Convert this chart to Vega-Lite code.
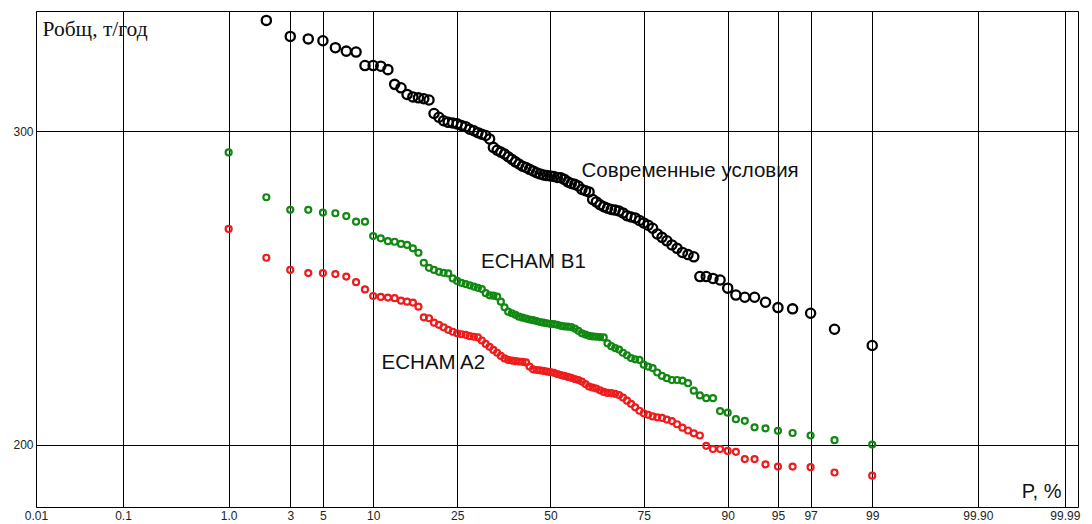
{
  "$schema": "https://vega.github.io/schema/vega-lite/v6.json",
  "width": 1042,
  "height": 496,
  "autosize": {"type": "none"},
  "padding": {"left": 36, "top": 11, "right": 14, "bottom": 17},
  "background": "white",
  "config": {
    "view": {"stroke": "black", "strokeWidth": 1, "fill": "white"},
    "axis": {"domain": false, "ticks": false, "grid": true, "gridColor": "black", "gridOpacity": 1, "gridWidth": 1, "labelFont": "Liberation Sans", "labelFontSize": 12, "labelColor": "#222"}
  },
  "datasets": {
    "obs": [
      {"series":"obs","P":2,"R":335.3},{"series":"obs","P":3,"R":330.2},{"series":"obs","P":4,"R":329.4},{"series":"obs","P":5,"R":328.8},{"series":"obs","P":6,"R":326.6},{"series":"obs","P":7,"R":325.5},{"series":"obs","P":8,"R":325.2},{"series":"obs","P":9,"R":320.9},{"series":"obs","P":10,"R":320.9},{"series":"obs","P":11,"R":320.7},
      {"series":"obs","P":12,"R":319.6},{"series":"obs","P":13,"R":314.9},{"series":"obs","P":14,"R":313.8},{"series":"obs","P":15,"R":311.7},{"series":"obs","P":16,"R":310.9},{"series":"obs","P":17,"R":310.6},{"series":"obs","P":18,"R":310.3},{"series":"obs","P":19,"R":309.9},{"series":"obs","P":20,"R":305.6},{"series":"obs","P":21,"R":304.4},
      {"series":"obs","P":22,"R":303.3},{"series":"obs","P":23,"R":302.8},{"series":"obs","P":24,"R":302.6},{"series":"obs","P":25,"R":302.3},{"series":"obs","P":26,"R":301.8},{"series":"obs","P":27,"R":301.4},{"series":"obs","P":28,"R":300.6},{"series":"obs","P":29,"R":300.1},{"series":"obs","P":30,"R":299.5},{"series":"obs","P":31,"R":299.0},
      {"series":"obs","P":32,"R":298.6},{"series":"obs","P":33,"R":297.5},{"series":"obs","P":34,"R":294.8},{"series":"obs","P":35,"R":293.9},{"series":"obs","P":36,"R":293.3},{"series":"obs","P":37,"R":292.7},{"series":"obs","P":38,"R":291.8},{"series":"obs","P":39,"R":291.0},{"series":"obs","P":40,"R":290.2},{"series":"obs","P":41,"R":289.5},
      {"series":"obs","P":42,"R":288.8},{"series":"obs","P":43,"R":288.4},{"series":"obs","P":44,"R":287.8},{"series":"obs","P":45,"R":287.3},{"series":"obs","P":46,"R":286.7},{"series":"obs","P":47,"R":286.3},{"series":"obs","P":48,"R":286.0},{"series":"obs","P":49,"R":285.8},{"series":"obs","P":50,"R":285.7},{"series":"obs","P":51,"R":285.5},
      {"series":"obs","P":52,"R":285.2},{"series":"obs","P":53,"R":285.1},{"series":"obs","P":54,"R":284.6},{"series":"obs","P":55,"R":283.8},{"series":"obs","P":56,"R":283.3},{"series":"obs","P":57,"R":283.0},{"series":"obs","P":58,"R":282.5},{"series":"obs","P":59,"R":281.4},{"series":"obs","P":60,"R":281.0},{"series":"obs","P":61,"R":280.6},
      {"series":"obs","P":62,"R":278.2},{"series":"obs","P":63,"R":277.4},{"series":"obs","P":64,"R":276.5},{"series":"obs","P":65,"R":275.9},{"series":"obs","P":66,"R":275.4},{"series":"obs","P":67,"R":275.0},{"series":"obs","P":68,"R":274.8},{"series":"obs","P":69,"R":274.5},{"series":"obs","P":70,"R":273.9},{"series":"obs","P":71,"R":273.0},
      {"series":"obs","P":72,"R":272.6},{"series":"obs","P":73,"R":272.3},{"series":"obs","P":74,"R":271.5},{"series":"obs","P":75,"R":270.7},{"series":"obs","P":76,"R":270.0},{"series":"obs","P":77,"R":269.0},{"series":"obs","P":78,"R":267.2},{"series":"obs","P":79,"R":266.1},{"series":"obs","P":80,"R":265.0},{"series":"obs","P":81,"R":263.7},
      {"series":"obs","P":82,"R":262.6},{"series":"obs","P":83,"R":261.3},{"series":"obs","P":84,"R":260.6},{"series":"obs","P":85,"R":259.9},{"series":"obs","P":86,"R":253.6},{"series":"obs","P":87,"R":253.6},{"series":"obs","P":88,"R":253.0},{"series":"obs","P":89,"R":252.5},{"series":"obs","P":90,"R":249.9},{"series":"obs","P":91,"R":247.7},
      {"series":"obs","P":92,"R":247.0},{"series":"obs","P":93,"R":247.0},{"series":"obs","P":94,"R":245.4},{"series":"obs","P":95,"R":243.7},{"series":"obs","P":96,"R":243.3},{"series":"obs","P":97,"R":241.9},{"series":"obs","P":98,"R":236.8},{"series":"obs","P":99,"R":231.6}
    ],
    "echam": [
      {"series":"B1","P":1,"R":293.2},{"series":"B1","P":2,"R":278.9},{"series":"B1","P":3,"R":274.9},{"series":"B1","P":4,"R":274.9},{"series":"B1","P":5,"R":274.0},{"series":"B1","P":6,"R":273.8},{"series":"B1","P":7,"R":272.9},{"series":"B1","P":8,"R":271.1},{"series":"B1","P":9,"R":271.1},{"series":"B1","P":10,"R":266.5},
      {"series":"B1","P":11,"R":265.8},{"series":"B1","P":12,"R":264.9},{"series":"B1","P":13,"R":264.7},{"series":"B1","P":14,"R":264.0},{"series":"B1","P":15,"R":263.7},{"series":"B1","P":16,"R":262.6},{"series":"B1","P":17,"R":261.2},{"series":"B1","P":18,"R":258.0},{"series":"B1","P":19,"R":256.4},{"series":"B1","P":20,"R":255.7},
      {"series":"B1","P":21,"R":255.1},{"series":"B1","P":22,"R":254.8},{"series":"B1","P":23,"R":254.6},{"series":"B1","P":24,"R":253.0},{"series":"B1","P":25,"R":252.2},{"series":"B1","P":26,"R":251.6},{"series":"B1","P":27,"R":251.2},{"series":"B1","P":28,"R":250.8},{"series":"B1","P":29,"R":250.4},{"series":"B1","P":30,"R":250.0},
      {"series":"B1","P":31,"R":249.6},{"series":"B1","P":32,"R":248.3},{"series":"B1","P":33,"R":247.6},{"series":"B1","P":34,"R":247.5},{"series":"B1","P":35,"R":247.2},{"series":"B1","P":36,"R":245.6},{"series":"B1","P":37,"R":243.8},{"series":"B1","P":38,"R":242.4},{"series":"B1","P":39,"R":241.9},{"series":"B1","P":40,"R":241.4},
      {"series":"B1","P":41,"R":240.8},{"series":"B1","P":42,"R":240.5},{"series":"B1","P":43,"R":240.2},{"series":"B1","P":44,"R":239.9},{"series":"B1","P":45,"R":239.7},{"series":"B1","P":46,"R":239.4},{"series":"B1","P":47,"R":239.1},{"series":"B1","P":48,"R":238.9},{"series":"B1","P":49,"R":238.7},{"series":"B1","P":50,"R":238.5},
      {"series":"B1","P":51,"R":238.4},{"series":"B1","P":52,"R":238.2},{"series":"B1","P":53,"R":237.9},{"series":"B1","P":54,"R":237.7},{"series":"B1","P":55,"R":237.6},{"series":"B1","P":56,"R":237.5},{"series":"B1","P":57,"R":237.0},{"series":"B1","P":58,"R":236.3},{"series":"B1","P":59,"R":235.5},{"series":"B1","P":60,"R":235.1},
      {"series":"B1","P":61,"R":234.7},{"series":"B1","P":62,"R":234.5},{"series":"B1","P":63,"R":234.4},{"series":"B1","P":64,"R":234.3},{"series":"B1","P":65,"R":234.2},{"series":"B1","P":66,"R":232.3},{"series":"B1","P":67,"R":231.4},{"series":"B1","P":68,"R":230.8},{"series":"B1","P":69,"R":230.3},{"series":"B1","P":70,"R":229.3},
      {"series":"B1","P":71,"R":228.5},{"series":"B1","P":72,"R":227.6},{"series":"B1","P":73,"R":227.2},{"series":"B1","P":74,"R":227.0},{"series":"B1","P":75,"R":225.5},{"series":"B1","P":76,"R":224.9},{"series":"B1","P":77,"R":224.4},{"series":"B1","P":78,"R":223.0},{"series":"B1","P":79,"R":221.9},{"series":"B1","P":80,"R":221.2},
      {"series":"B1","P":81,"R":220.6},{"series":"B1","P":82,"R":220.6},{"series":"B1","P":83,"R":220.4},{"series":"B1","P":84,"R":219.6},{"series":"B1","P":85,"R":217.2},{"series":"B1","P":86,"R":215.7},{"series":"B1","P":87,"R":214.8},{"series":"B1","P":88,"R":214.8},{"series":"B1","P":89,"R":210.7},{"series":"B1","P":90,"R":210.2},
      {"series":"B1","P":91,"R":208.1},{"series":"B1","P":92,"R":207.6},{"series":"B1","P":93,"R":205.5},{"series":"B1","P":94,"R":205.2},{"series":"B1","P":95,"R":204.4},{"series":"B1","P":96,"R":203.7},{"series":"B1","P":97,"R":202.9},{"series":"B1","P":98,"R":201.4},{"series":"B1","P":99,"R":200.0},
      {"series":"A2","P":1,"R":268.8},{"series":"A2","P":2,"R":259.6},{"series":"A2","P":3,"R":255.7},{"series":"A2","P":4,"R":254.7},{"series":"A2","P":5,"R":254.7},{"series":"A2","P":6,"R":254.4},{"series":"A2","P":7,"R":253.6},{"series":"A2","P":8,"R":251.8},{"series":"A2","P":9,"R":249.5},{"series":"A2","P":10,"R":247.4},
      {"series":"A2","P":11,"R":247.1},{"series":"A2","P":12,"R":246.9},{"series":"A2","P":13,"R":246.7},{"series":"A2","P":14,"R":245.9},{"series":"A2","P":15,"R":245.6},{"series":"A2","P":16,"R":245.3},{"series":"A2","P":17,"R":244.0},{"series":"A2","P":18,"R":240.6},{"series":"A2","P":19,"R":240.3},{"series":"A2","P":20,"R":238.9},
      {"series":"A2","P":21,"R":238.2},{"series":"A2","P":22,"R":237.4},{"series":"A2","P":23,"R":236.6},{"series":"A2","P":24,"R":236.0},{"series":"A2","P":25,"R":235.5},{"series":"A2","P":26,"R":235.2},{"series":"A2","P":27,"R":235.0},{"series":"A2","P":28,"R":234.6},{"series":"A2","P":29,"R":234.4},{"series":"A2","P":30,"R":234.2},
      {"series":"A2","P":31,"R":233.2},{"series":"A2","P":32,"R":232.1},{"series":"A2","P":33,"R":231.2},{"series":"A2","P":34,"R":230.2},{"series":"A2","P":35,"R":229.3},{"series":"A2","P":36,"R":228.3},{"series":"A2","P":37,"R":227.5},{"series":"A2","P":38,"R":227.0},{"series":"A2","P":39,"R":226.8},{"series":"A2","P":40,"R":226.6},
      {"series":"A2","P":41,"R":226.5},{"series":"A2","P":42,"R":226.4},{"series":"A2","P":43,"R":226.2},{"series":"A2","P":44,"R":224.9},{"series":"A2","P":45,"R":224.0},{"series":"A2","P":46,"R":223.8},{"series":"A2","P":47,"R":223.7},{"series":"A2","P":48,"R":223.5},{"series":"A2","P":49,"R":223.3},{"series":"A2","P":50,"R":223.1},
      {"series":"A2","P":51,"R":222.9},{"series":"A2","P":52,"R":222.5},{"series":"A2","P":53,"R":222.2},{"series":"A2","P":54,"R":221.9},{"series":"A2","P":55,"R":221.6},{"series":"A2","P":56,"R":221.3},{"series":"A2","P":57,"R":220.9},{"series":"A2","P":58,"R":220.6},{"series":"A2","P":59,"R":220.1},{"series":"A2","P":60,"R":219.3},
      {"series":"A2","P":61,"R":218.5},{"series":"A2","P":62,"R":218.2},{"series":"A2","P":63,"R":217.9},{"series":"A2","P":64,"R":217.3},{"series":"A2","P":65,"R":216.8},{"series":"A2","P":66,"R":216.5},{"series":"A2","P":67,"R":216.4},{"series":"A2","P":68,"R":216.2},{"series":"A2","P":69,"R":215.8},{"series":"A2","P":70,"R":215.0},
      {"series":"A2","P":71,"R":214.0},{"series":"A2","P":72,"R":213.0},{"series":"A2","P":73,"R":211.9},{"series":"A2","P":74,"R":210.8},{"series":"A2","P":75,"R":210.0},{"series":"A2","P":76,"R":209.5},{"series":"A2","P":77,"R":209.0},{"series":"A2","P":78,"R":208.7},{"series":"A2","P":79,"R":208.5},{"series":"A2","P":80,"R":208.0},
      {"series":"A2","P":81,"R":207.5},{"series":"A2","P":82,"R":206.5},{"series":"A2","P":83,"R":205.4},{"series":"A2","P":84,"R":204.5},{"series":"A2","P":85,"R":203.6},{"series":"A2","P":86,"R":202.9},{"series":"A2","P":87,"R":199.6},{"series":"A2","P":88,"R":198.6},{"series":"A2","P":89,"R":198.6},{"series":"A2","P":90,"R":198.0},
      {"series":"A2","P":91,"R":197.7},{"series":"A2","P":92,"R":195.4},{"series":"A2","P":93,"R":195.4},{"series":"A2","P":94,"R":193.7},{"series":"A2","P":95,"R":193.0},{"series":"A2","P":96,"R":193.0},{"series":"A2","P":97,"R":192.8},{"series":"A2","P":98,"R":191.1},{"series":"A2","P":99,"R":190.1}
    ],
    "labels": [
      {"P":58.9,"R":287.3,"text":"Современные условия"},
      {"P":30.8,"R":258.2,"text":"ECHAM B1"},
      {"P":11.1,"R":226.0,"text":"ECHAM A2"}
    ]
  },
  "layer": [
    {
      "data": {"name": "echam"},
      "transform": [{"calculate": "quantileNormal(datum.P / 100)", "as": "z"}],
      "mark": {"type": "point", "shape": "circle", "filled": false, "strokeWidth": 2.2, "size": 36, "opacity": 1, "clip": true},
      "encoding": {
        "x": {
          "field": "z", "type": "quantitative",
          "scale": {"domain": [-3.719, 3.814], "nice": false, "zero": false},
          "axis": {
            "values": [-3.719, -3.0902, -2.3263, -1.8808, -1.6449, -1.2816, -0.6745, 0, 0.6745, 1.2816, 1.6449, 1.8808, 2.3263, 3.0902, 3.719],
            "labelExpr": "datum.value < -3.5 ? '0.01' : datum.value < -3 ? '0.1' : datum.value < -2 ? '1.0' : datum.value < -1.8 ? '3' : datum.value < -1.5 ? '5' : datum.value < -1 ? '10' : datum.value < -0.5 ? '25' : datum.value < 0.5 ? '50' : datum.value < 1 ? '75' : datum.value < 1.5 ? '90' : datum.value < 1.8 ? '95' : datum.value < 2 ? '97' : datum.value < 3 ? '99' : datum.value < 3.5 ? '99.90' : '99.99'",
            "labelPadding": 3,
            "labelFlush": false,
            "labelOverlap": false,
            "title": "P, %",
            "titleFont": "Liberation Sans", "titleFontSize": 20, "titleFontWeight": "normal", "titleColor": "#111",
            "titleAnchor": null, "titleAlign": "right", "titleBaseline": "alphabetic",
            "titleX": 1025, "titleY": -10
          }
        },
        "y": {
          "field": "R", "type": "quantitative",
          "scale": {"domain": [180.1, 338.3], "nice": false, "zero": false},
          "axis": {
            "values": [200, 300],
            "labelPadding": 3,
            "labelFlush": false,
            "title": "Робщ, т/год",
            "titleFont": "Liberation Serif", "titleFontSize": 21.5, "titleFontWeight": "normal", "titleColor": "#111",
            "titleAngle": 0, "titleAnchor": null, "titleAlign": "left", "titleBaseline": "alphabetic",
            "titleX": 6, "titleY": 24
          }
        },
        "color": {"field": "series", "type": "nominal", "scale": {"domain": ["obs", "B1", "A2"], "range": ["#000000", "#118811", "#ee1c1c"]}, "legend": null}
      }
    },
    {
      "data": {"name": "obs"},
      "transform": [{"calculate": "quantileNormal(datum.P / 100)", "as": "z"}],
      "mark": {"type": "point", "shape": "circle", "filled": false, "strokeWidth": 2.3, "size": 85, "opacity": 1, "clip": true},
      "encoding": {
        "x": {"field": "z", "type": "quantitative"},
        "y": {"field": "R", "type": "quantitative"},
        "color": {"field": "series", "type": "nominal", "legend": null}
      }
    },
    {
      "data": {"name": "labels"},
      "transform": [{"calculate": "quantileNormal(datum.P / 100)", "as": "z"}],
      "mark": {"type": "text", "align": "left", "baseline": "middle", "font": "Liberation Sans", "fontSize": 20.5, "color": "#111"},
      "encoding": {
        "x": {"field": "z", "type": "quantitative"},
        "y": {"field": "R", "type": "quantitative"},
        "text": {"field": "text"}
      }
    }
  ]
}
